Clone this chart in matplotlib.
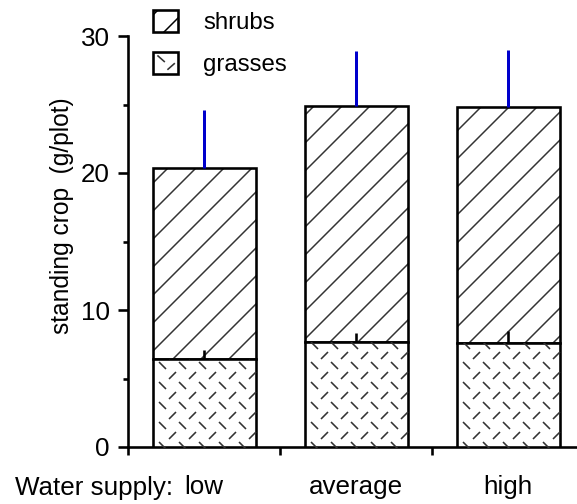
import numpy as np
import matplotlib
matplotlib.use("Agg")
import matplotlib.pyplot as plt
from matplotlib.patches import Patch, Rectangle
from matplotlib.lines import Line2D
from matplotlib.path import Path
from matplotlib.legend_handler import HandlerBase

# datos
niveles = ["low", "average", "high"]
pastos = [6.4, 7.65, 7.6]          # grasses (parte baja)
arbustos = [14.0, 17.25, 17.2]     # shrubs (encima de grasses)
err_total = [4.2, 4.0, 4.2]        # barra azul sobre el total
err_pastos = [0.7, 0.65, 0.9]      # marquita negra sobre grasses

DPI = 84
LW = 2.6  # grosor de lineas en pixeles


def px(v):
    # pixeles -> puntos
    return v * 72.0 / DPI


plt.rcParams['font.family'] = ['Liberation Sans', 'DejaVu Sans']
plt.rcParams['hatch.linewidth'] = px(1.5)

fig = plt.figure(figsize=(577 / DPI, 504 / DPI), dpi=DPI)
ax = fig.add_axes([128 / 577, 57 / 504, 449 / 577, 411 / 504])

x = np.arange(len(niveles))
ancho = 103 / 152
total = np.array(pastos) + np.array(arbustos)

# relleno con rayas (shrubs)
ax.bar(x, arbustos, ancho, bottom=pastos, color='white', edgecolor='#333333',
       hatch='/', linewidth=0, zorder=2)
ax.bar(x, arbustos, ancho, bottom=pastos, fill=False, edgecolor='black',
       linewidth=px(LW), zorder=3)

# grasses: caja blanca + textura de rayitas
barras_pasto = ax.bar(x, pastos, ancho, color='white', edgecolor='black',
                      linewidth=px(LW), zorder=3)

seg_a = Path([[-0.5, 0.5], [0.5, -0.5]], [Path.MOVETO, Path.LINETO])
seg_b = Path([[-0.5, -0.5], [0.5, 0.5]], [Path.MOVETO, Path.LINETO])
dx = 20 / 152
dy = 20 / 13.7
for b in barras_pasto:
    x0 = b.get_x()
    x1 = x0 + b.get_width()
    h = b.get_height()
    gx = np.arange(x0 + 0.06, x1, dx)
    gy = np.arange(0.15, h, dy)
    X, Y = np.meshgrid(gx, gy)
    l1, = ax.plot(X.ravel(), Y.ravel(), linestyle='none', marker=seg_a,
                  ms=px(7), mfc='none', mec='#333333', mew=px(1.6), zorder=3)
    l2, = ax.plot(X.ravel() + dx / 2, Y.ravel() + dy / 2, linestyle='none',
                  marker=seg_b, ms=px(7), mfc='none', mec='#333333',
                  mew=px(1.6), zorder=3)
    l1.set_clip_path(b)
    l2.set_clip_path(b)

# barras de error (solo hacia arriba)
ax.vlines(x, total, total + np.array(err_total), color='#0000cc',
          linewidth=px(3), zorder=4, clip_on=False)
ax.vlines(x, pastos, np.array(pastos) + np.array(err_pastos), color='black',
          linewidth=px(LW), zorder=4)

# ejes
ax.set_xlim(-0.5, -0.5 + 449 / 152)
ax.set_ylim(0, 30)
ax.spines['top'].set_visible(False)
ax.spines['right'].set_visible(False)
ax.spines['left'].set_linewidth(px(LW))
ax.spines['bottom'].set_linewidth(px(LW))
ax.spines['left'].set_bounds(0, 30)

ax.set_yticks([0, 10, 20, 30])
ax.set_yticks([5, 15, 25], minor=True)
ax.tick_params(axis='y', which='major', length=px(10), width=px(LW),
               pad=px(8), labelsize=px(26))
ax.tick_params(axis='y', which='minor', length=px(5), width=px(LW))

ax.set_xticks([-0.5, 0.5, 1.5])
ax.set_xticklabels([])
ax.set_xticks(x, labels=niveles, minor=True)
ax.tick_params(axis='x', which='major', direction='out', length=px(8),
               width=px(LW))
ax.tick_params(axis='x', which='minor', length=0, pad=px(28),
               labelsize=px(26))

fig.text(173 / 577, 1 - 495 / 504, 'Water supply:', ha='right',
         va='baseline', fontsize=px(26))

ax.set_ylabel('standing crop  (g/plot)', fontsize=px(24.5), va='center')
ax.yaxis.set_label_coords((62 - 128) / 449, (447 - 216) / 411)


class HandlerPasto(HandlerBase):
    def create_artists(self, legend, orig_handle, xdescent, ydescent,
                       width, height, fontsize, trans):
        x0, y0 = -xdescent, -ydescent
        caja = Rectangle((x0, y0), width, height, facecolor='white',
                         edgecolor='black', linewidth=px(LW), transform=trans)
        a = Line2D([x0 + 0.2 * width, x0 + 0.45 * width],
                   [y0 + 0.8 * height, y0 + 0.55 * height],
                   color='#333333', linewidth=px(1.6), transform=trans)
        b = Line2D([x0 + 0.6 * width, x0 + 0.85 * width],
                   [y0 + 0.2 * height, y0 + 0.45 * height],
                   color='#333333', linewidth=px(1.6), transform=trans)
        return [caja, a, b]


h_arb = Patch(facecolor='white', edgecolor='black', hatch='/',
              linewidth=px(LW))
h_pas = Patch(facecolor='white', edgecolor='black')
fig.legend([h_arb, h_pas], ['shrubs', 'grasses'],
           handler_map={h_pas: HandlerPasto()},
           loc='upper left', bbox_to_anchor=(153 / 577, 1 - 10 / 504),
           frameon=False, borderpad=0, borderaxespad=0, fontsize=px(24),
           handlelength=25 / 24, handleheight=25 / 24,
           handletextpad=25 / 24, labelspacing=0.72)

fig.savefig('out.png', dpi=DPI)
